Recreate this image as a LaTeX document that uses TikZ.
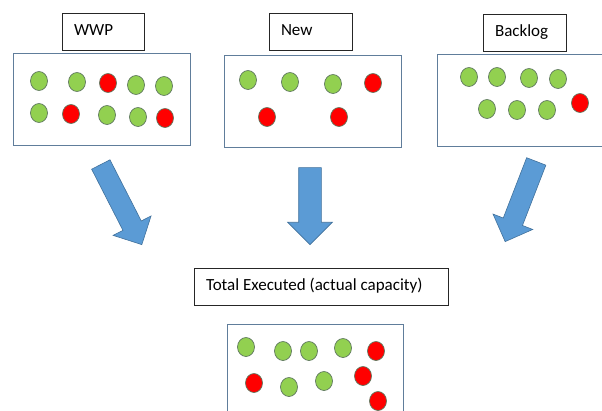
\documentclass[tikz,border=0pt]{standalone}
\usepackage{fontspec}
\setmainfont{Carlito}
\usetikzlibrary{shapes.geometric,shapes.arrows}
\definecolor{arrowblue}{RGB}{91,155,213}
\definecolor{arrowedge}{RGB}{65,113,156}
\definecolor{boxedge}{RGB}{96,125,155}
\definecolor{dotgreen}{RGB}{146,208,80}
\definecolor{dotred}{RGB}{255,0,0}
\definecolor{dotedge}{RGB}{95,120,95}

\begin{document}
\begin{tikzpicture}[
    x=1pt, y=-1pt,
    tag/.style={draw=black!85, line width=0.8pt, minimum height=37pt, inner xsep=12pt, text width=#1, align=justify, text height=11.5pt, text depth=3pt, font=\fontsize{17}{20}\selectfont},
    pool/.style={draw=boxedge, line width=0.8pt, minimum width=177pt, minimum height=92pt},
    ball/.style={ellipse, draw=dotedge, line width=0.7pt, minimum width=17pt, minimum height=19pt, inner sep=0pt},
    flow/.style={single arrow, draw=arrowedge, fill=arrowblue, line width=0.6pt, inner sep=0pt, text height=10pt, text depth=10pt, single arrow head extend=11pt, anchor=tip}
]
\useasboundingbox (0,0) rectangle (602,410);
\clip (0,0) rectangle (602,410);

% source labels and pools
\node[tag=58pt] (wwp) at (103,31.5) {WWP};
\node[tag=59pt] (new) at (310.5,31.5) {New};
\node[tag=59pt] (backlog) at (524.5,32.5) {Backlog};
\node[pool] (wwppool) at (101.5,99) {};
\node[pool] (newpool) at (312.5,101.5) {};
\node[pool] (backlogpool) at (525.5,100) {};

\foreach \px/\py/\c [count=\i] in {39/81/green, 77/82/green, 108/83/red, 136/85/green, 164/86/green,
    39/113/green, 71/114/red, 107/115/green, 138/117/green, 165/118/red}
  \node[ball, fill=dot\c] (wwp-\i) at (\px,\py) {};
\foreach \px/\py/\c [count=\i] in {248/80/green, 290/82/green, 333/84/green, 373/83/red,
    267/117/red, 339/117/red}
  \node[ball, fill=dot\c] (new-\i) at (\px,\py) {};
\foreach \px/\py/\c [count=\i] in {469/77/green, 497/77/green, 529/78/green, 558/79/green,
    487/109/green, 517/110/green, 547/110/green, 580/103/red}
  \node[ball, fill=dot\c] (backlog-\i) at (\px,\py) {};

% arrows into the total
\node[flow, minimum height=90pt, rotate=-62.9] (wwpflow) at (142,245) {};
\node[flow, minimum height=77pt, rotate=-90, text height=11pt, text depth=11pt] (newflow) at (310,245) {};
\node[flow, minimum height=86pt, rotate=-111.2] (backlogflow) at (505,242) {};

% result
\node[tag=230pt] (total) at (321,286.5) {Total Executed (actual capacity)};
\node[pool, minimum width=176pt] (totalpool) at (315,370) {};
\foreach \px/\py/\c [count=\i] in {246/347/green, 283/351/green, 309/351/green, 343/348/green, 376/351/red,
    254/383/red, 289/387/green, 324/381/green, 363/376/red, 378/401/red}
  \node[ball, fill=dot\c] (total-\i) at (\px,\py) {};
\end{tikzpicture}
\end{document}
